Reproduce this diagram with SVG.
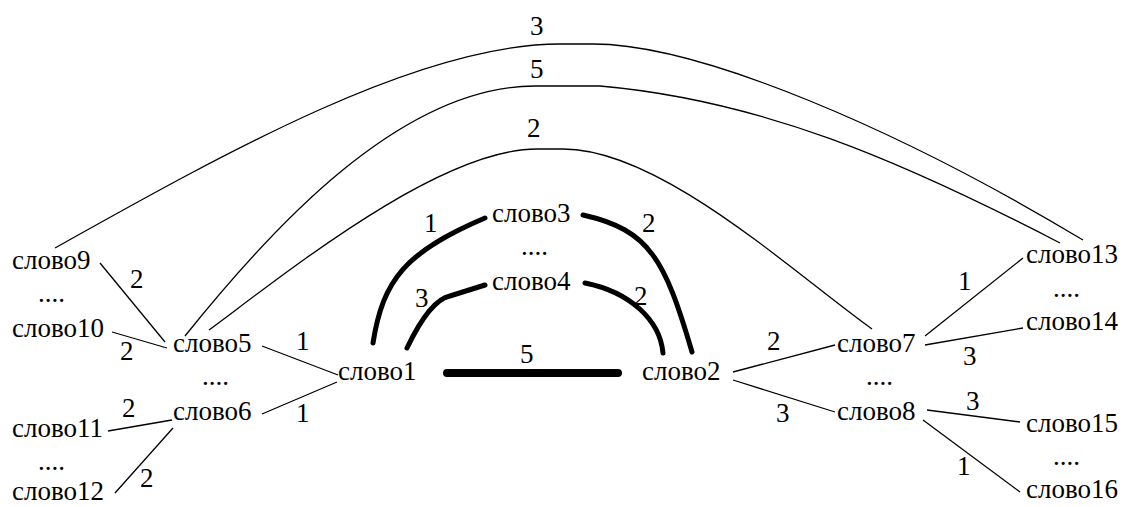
<svg xmlns="http://www.w3.org/2000/svg" width="1126" height="507" viewBox="0 0 1126 507" font-family="Liberation Serif, DejaVu Serif, serif">
<style>
text{font-size:27px;fill:#000}
.thin{fill:none;stroke:#000;stroke-width:1.3}
.thick{fill:none;stroke:#000;stroke-width:5;stroke-linecap:round}
.bold{fill:none;stroke:#000;stroke-width:8;stroke-linecap:round}
</style>
<rect width="1126" height="507" fill="#fff"/>
<g id="connectors">
<path class="thin" d="M55,248 C230,150 420,44 560,44 L593,44 C700,44 900,130 1083,240"/>
<path class="thin" d="M185,336 C270,230 400,86 535,86 L600,86 C760,100 900,160 1060,243"/>
<path class="thin" d="M209,330 C290,270 440,149 537,149 L563,149 C660,149 790,270 872,329"/>
<path class="thick" d="M373,343 C383,280 405,252 485,218"/>
<path class="thick" d="M407,348 Q430,300 450,296 L485,285"/>
<path class="thick" d="M583,215 C650,230 665,260 692,352"/>
<path class="thick" d="M585,283 C630,292 660,320 663,353"/>
<line class="bold" x1="447" y1="373" x2="618" y2="373"/>
<line class="thin" x1="100" y1="263" x2="165" y2="342"/>
<line class="thin" x1="112" y1="332" x2="167" y2="348"/>
<line class="thin" x1="262" y1="346" x2="338" y2="375"/>
<line class="thin" x1="262" y1="414" x2="337" y2="382"/>
<line class="thin" x1="108" y1="431" x2="172" y2="420"/>
<line class="thin" x1="115" y1="493" x2="173" y2="428"/>
<line class="thin" x1="733" y1="372" x2="835" y2="345"/>
<line class="thin" x1="733" y1="380" x2="835" y2="412"/>
<line class="thin" x1="925" y1="336" x2="1023" y2="258"/>
<line class="thin" x1="925" y1="345" x2="1023" y2="328"/>
<line class="thin" x1="927" y1="410" x2="1020" y2="422"/>
<line class="thin" x1="923" y1="420" x2="1020" y2="492"/>
<text x="530" y="35">3</text>
<text x="530" y="78">5</text>
<text x="527" y="137">2</text>
<text x="424" y="232">1</text>
<text x="415" y="307">3</text>
<text x="642" y="232">2</text>
<text x="634" y="305">2</text>
<text x="520" y="363">5</text>
<text x="130" y="288">2</text>
<text x="120" y="360">2</text>
<text x="296" y="350">1</text>
<text x="296" y="422">1</text>
<text x="122" y="417">2</text>
<text x="140" y="487">2</text>
<text x="767" y="350">2</text>
<text x="776" y="422">3</text>
<text x="958" y="290">1</text>
<text x="963" y="365">3</text>
<text x="966" y="410">3</text>
<text x="957" y="475">1</text>
</g>
<g id="n9"><text x="12" y="269">слово9</text></g>
<g id="d9"><text x="38" y="302">....</text></g>
<g id="n10"><text x="12" y="337">слово10</text></g>
<g id="n5"><text x="173" y="352">слово5</text></g>
<g id="d5"><text x="202" y="385">....</text></g>
<g id="n6"><text x="173" y="420">слово6</text></g>
<g id="n11"><text x="12" y="437">слово11</text></g>
<g id="d11"><text x="38" y="470">....</text></g>
<g id="n12"><text x="12" y="500">слово12</text></g>
<g id="n1"><text x="338" y="380">слово1</text></g>
<g id="n3"><text x="492" y="222">слово3</text></g>
<g id="d3"><text x="521" y="255">....</text></g>
<g id="n4"><text x="492" y="290">слово4</text></g>
<g id="n2"><text x="642" y="380">слово2</text></g>
<g id="n7"><text x="837" y="352">слово7</text></g>
<g id="d7"><text x="866" y="385">....</text></g>
<g id="n8"><text x="837" y="420">слово8</text></g>
<g id="n13"><text x="1026" y="263">слово13</text></g>
<g id="d13"><text x="1053" y="297">....</text></g>
<g id="n14"><text x="1026" y="330">слово14</text></g>
<g id="n15"><text x="1026" y="432">слово15</text></g>
<g id="d15"><text x="1053" y="465">....</text></g>
<g id="n16"><text x="1026" y="498">слово16</text></g>
</svg>
